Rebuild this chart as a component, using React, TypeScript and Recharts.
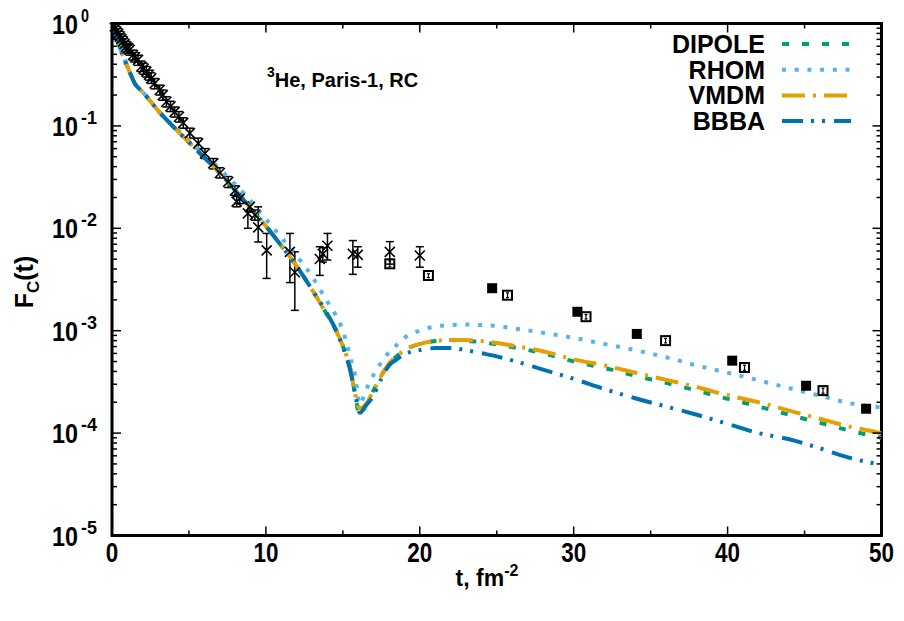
import React from "react";
import {
  ComposedChart,
  Line,
  Scatter,
  XAxis,
  YAxis,
  ErrorBar,
  ReferenceArea,
} from "recharts";

// model curves: t (fm^-2) and |F_C(t)|
const curveT = [0, 0.25, 0.5, 0.75, 1, 1.5, 2, 2.5, 3, 4, 5, 6, 7, 8, 9, 10, 11, 12, 13, 14, 14.5, 15, 15.5, 15.8, 16.1, 16.5, 17, 17.5, 18, 18.5, 19, 20, 21, 22, 23, 24, 25, 26, 28, 30, 32, 34, 36, 38, 40, 42, 44, 46, 48, 50];

const dipoleF = [1, 0.776, 0.589, 0.468, 0.38, 0.257, 0.214, 0.174, 0.141, 0.0977, 0.0692, 0.049, 0.0347, 0.0234, 0.0158, 0.0105, 0.00676, 0.00427, 0.00251, 0.00141, 0.00105, 7.08e-4, 4.17e-4, 2.4e-4, 1.48e-4, 1.91e-4, 2.63e-4, 3.63e-4, 4.79e-4, 5.62e-4, 6.46e-4, 7.41e-4, 7.94e-4, 8.13e-4, 7.94e-4, 7.76e-4, 7.33e-4, 6.92e-4, 6.03e-4, 5.01e-4, 4.32e-4, 3.63e-4, 3.09e-4, 2.6e-4, 2.16e-4, 1.82e-4, 1.51e-4, 1.26e-4, 1.05e-4, 9.0e-5];

const rhomF = [1, 0.776, 0.589, 0.468, 0.38, 0.257, 0.214, 0.174, 0.141, 0.1, 0.0724, 0.0525, 0.038, 0.0269, 0.0186, 0.0123, 0.00813, 0.00537, 0.00339, 0.00191, 0.00145, 0.001, 5.37e-4, 3.63e-4, 1.91e-4, 2.63e-4, 3.72e-4, 4.9e-4, 6.17e-4, 7.24e-4, 8.51e-4, 0.001, 0.0011, 0.001135, 0.00115, 0.001135, 0.00111, 0.00106, 9.55e-4, 8.51e-4, 7.41e-4, 6.46e-4, 5.5e-4, 4.57e-4, 3.89e-4, 3.28e-4, 2.75e-4, 2.32e-4, 1.95e-4, 1.78e-4];

const vmdmF = [1, 0.776, 0.589, 0.468, 0.38, 0.257, 0.214, 0.174, 0.141, 0.0977, 0.0692, 0.049, 0.0347, 0.0234, 0.0158, 0.0105, 0.00676, 0.00427, 0.00251, 0.00141, 0.00105, 7.08e-4, 4.17e-4, 2.4e-4, 1.74e-4, 1.91e-4, 2.63e-4, 3.63e-4, 4.79e-4, 5.62e-4, 6.46e-4, 7.41e-4, 7.94e-4, 8.13e-4, 8.13e-4, 7.94e-4, 7.59e-4, 7.16e-4, 6.31e-4, 5.25e-4, 4.57e-4, 3.89e-4, 3.31e-4, 2.82e-4, 2.34e-4, 2.0e-4, 1.66e-4, 1.38e-4, 1.15e-4, 1.0e-4];

const bbbaF = [1, 0.776, 0.589, 0.468, 0.38, 0.257, 0.214, 0.174, 0.141, 0.0977, 0.0692, 0.049, 0.0347, 0.0234, 0.0158, 0.0105, 0.00676, 0.00427, 0.00251, 0.00145, 0.00105, 6.92e-4, 3.98e-4, 2.4e-4, 1.58e-4, 1.86e-4, 2.34e-4, 3.39e-4, 4.57e-4, 5.25e-4, 5.89e-4, 6.46e-4, 6.76e-4, 6.76e-4, 6.46e-4, 6.03e-4, 5.62e-4, 5.13e-4, 4.17e-4, 3.39e-4, 2.69e-4, 2.19e-4, 1.82e-4, 1.51e-4, 1.23e-4, 1.0e-4, 8.7e-5, 7.1e-5, 5.7e-5, 4.9e-5];

// experimental points, crosses with error bars
const crossT = [0.1, 0.2, 0.28, 0.4, 0.5, 0.6, 0.71, 0.82, 0.93, 1.04, 1.15, 1.36, 1.5, 1.69, 1.9, 2.05, 2.23, 2.4, 2.55, 2.77, 3.1, 3.3, 3.53, 3.8, 4.07, 4.35, 4.63, 5.06, 5.6, 6.04, 6.58, 7.01, 7.55, 7.99, 8.1, 8.3, 8.83, 8.96, 9.29, 9.5, 10.05, 11.56, 11.88, 13.5, 13.7, 14.0, 15.65, 15.97, 18.05, 20.0];
const crossF = [0.955, 0.891, 0.836, 0.794, 0.746, 0.708, 0.667, 0.631, 0.596, 0.575, 0.552, 0.493, 0.468, 0.441, 0.38, 0.363, 0.339, 0.316, 0.291, 0.26, 0.224, 0.2, 0.172, 0.155, 0.137, 0.123, 0.107, 0.0851, 0.0676, 0.0537, 0.0431, 0.0347, 0.0284, 0.0234, 0.0182, 0.0195, 0.014, 0.0162, 0.0135, 0.0102, 0.00608, 0.00589, 0.00372, 0.00501, 0.00562, 0.00676, 0.00562, 0.0055, 0.00589, 0.00543];
const crossLow = [0.85, 0.79, 0.74, 0.71, 0.66, 0.63, 0.59, 0.56, 0.53, 0.51, 0.49, 0.44, 0.42, 0.39, 0.34, 0.32, 0.3, 0.28, 0.26, 0.23, 0.2, 0.178, 0.153, 0.138, 0.122, 0.109, 0.095, 0.076, 0.06, 0.048, 0.038, 0.031, 0.025, 0.021, 0.0162, 0.0174, 0.01, 0.0144, 0.012, 0.00735, 0.00324, 0.00295, 0.00158, 0.00347, 0.00468, 0.0049, 0.00355, 0.00417, 0.00447, 0.00417];
const crossHigh = [1.0, 1.0, 0.94, 0.89, 0.84, 0.79, 0.75, 0.71, 0.67, 0.64, 0.62, 0.55, 0.52, 0.49, 0.43, 0.41, 0.38, 0.35, 0.33, 0.29, 0.25, 0.224, 0.193, 0.174, 0.153, 0.138, 0.12, 0.095, 0.076, 0.06, 0.048, 0.039, 0.032, 0.026, 0.0204, 0.0218, 0.0181, 0.0181, 0.0151, 0.0162, 0.00891, 0.00891, 0.00589, 0.00661, 0.00646, 0.00891, 0.00759, 0.00661, 0.00741, 0.00661];

// open squares
const openT = [18.05, 20.56, 25.7, 30.8, 35.97, 41.1, 46.2];
const openF = [0.0045, 0.00346, 0.00222, 0.00137, 0.0008, 4.37e-4, 2.6e-4];
const openLow = [0.0042, 0.0033, 0.0021, 0.0013, 0.00076, 4.1e-4, 2.45e-4];
const openHigh = [0.0048, 0.0036, 0.00234, 0.00144, 0.00084, 4.6e-4, 2.75e-4];

// filled squares
const filledT = [24.7, 30.24, 34.1, 40.3, 45.1, 49.0];
const filledF = [0.0026, 0.00153, 9.3e-4, 5.1e-4, 2.9e-4, 1.73e-4];

const xTicks = [0, 5, 10, 15, 20, 25, 30, 35, 40, 45, 50];
const yMajor = [1e-5, 1e-4, 1e-3, 1e-2, 1e-1, 1];
const yExponents = ["-5", "-4", "-3", "-2", "-1", "0"];
const minorSteps = [2, 3, 4, 5, 6, 7, 8, 9];

const series = [
  { name: "DIPOLE", values: dipoleF, color: "#009E73", dash: "7 13" },
  { name: "RHOM", values: rhomF, color: "#56B4E9", dash: "4 8.7" },
  { name: "VMDM", values: vmdmF, color: "#E69F00", dash: "23 8 3 8" },
  { name: "BBBA", values: bbbaF, color: "#0072B2", dash: "21 8 3 8 3 9" },
];

const W = 904;
const H = 621;
const PL = 112;
const PR = 881.5;
const PT = 23.5;
const PB = 535.5;
const FONT = "'Liberation Sans', Arial, Helvetica, sans-serif";

const yTicks = [
  ...yMajor,
  ...yMajor.slice(0, 5).flatMap((d) => minorSteps.map((k) => k * d)),
];

const crossData = crossT.map((t, i) => ({
  t,
  v: crossF[i],
  err: [crossF[i] - crossLow[i], crossHigh[i] - crossF[i]],
}));
const openData = openT.map((t, i) => ({
  t,
  v: openF[i],
  err: [openF[i] - openLow[i], openHigh[i] - openF[i]],
}));
const filledData = filledT.map((t, i) => ({ t, v: filledF[i] }));

const YTick = (props: any) => {
  const { y, payload } = props;
  const v = payload.value;
  const idx = yMajor.findIndex((m) => Math.abs(m - v) / m < 1e-6);
  const major = idx >= 0;
  const len = major ? 9 : 5;
  return (
    <g>
      <line x1={PL} x2={PL + len} y1={y} y2={y} stroke="#000" strokeWidth={1.5} />
      <line x1={PR - len} x2={PR} y1={y} y2={y} stroke="#000" strokeWidth={1.5} />
      {major && (
        <text fontFamily={FONT} fontWeight="bold" fill="#000">
          <tspan x={52} y={y + 10} fontSize={27} textLength={26} lengthAdjust="spacingAndGlyphs">
            10
          </tspan>
          <tspan x={81} y={y - 2} fontSize={19} textLength={yExponents[idx].length * 8} lengthAdjust="spacingAndGlyphs">
            {yExponents[idx]}
          </tspan>
        </text>
      )}
    </g>
  );
};

const XTick = (props: any) => {
  const { x, payload } = props;
  const v = payload.value;
  const major = v % 10 === 0;
  const len = major ? 9 : 5;
  const label = String(v);
  return (
    <g>
      <line x1={x} x2={x} y1={PB} y2={PB - len} stroke="#000" strokeWidth={1.5} />
      <line x1={x} x2={x} y1={PT} y2={PT + len} stroke="#000" strokeWidth={1.5} />
      {major && (
        <text
          x={x}
          y={PB + 26}
          textAnchor="middle"
          fontFamily={FONT}
          fontWeight="bold"
          fontSize={27}
          fill="#000"
          textLength={label.length * 12.5}
          lengthAdjust="spacingAndGlyphs"
        >
          {label}
        </text>
      )}
    </g>
  );
};

const Cross = (p: any) => {
  const { cx, cy } = p;
  const s = 5;
  return (
    <g stroke="#000" strokeWidth={1.6}>
      <line x1={cx - s} y1={cy - s} x2={cx + s} y2={cy + s} />
      <line x1={cx - s} y1={cy + s} x2={cx + s} y2={cy - s} />
    </g>
  );
};

const OpenSquare = (p: any) => {
  const { cx, cy } = p;
  return <rect x={cx - 4.5} y={cy - 4.5} width={9} height={9} fill="none" stroke="#000" strokeWidth={2} />;
};

const FilledSquare = (p: any) => {
  const { cx, cy } = p;
  return <rect x={cx - 5} y={cy - 5} width={10} height={10} fill="#000" />;
};

const Legend = () => (
  <svg width={W} height={160} style={{ position: "absolute", left: 0, top: 0, pointerEvents: "none" }}>
    <text x={267} y={87} fontFamily={FONT} fontWeight="bold" fontSize={20} fill="#000">
      <tspan fontSize={14} dy={-10}>3</tspan>
      <tspan dy={10}>He, Paris-1, RC</tspan>
    </text>
    {series.map((s, i) => {
      const yc = 44 + i * 25.7;
      return (
        <g key={s.name}>
          <text x={765} y={yc + 9} textAnchor="end" fontFamily={FONT} fontWeight="bold" fontSize={25} fill="#000">
            {s.name}
          </text>
          <line x1={782} x2={851} y1={yc} y2={yc} stroke={s.color} strokeWidth={4} strokeDasharray={s.dash} />
        </g>
      );
    })}
  </svg>
);

export default function App() {
  return (
    <div style={{ position: "absolute", left: 0, top: 0, width: W, height: H, background: "#fff" }}>
      <ComposedChart width={W} height={H} margin={{ top: PT, right: W - PR, bottom: 0, left: 0 }}>
        <XAxis
          type="number"
          dataKey="t"
          domain={[0, 50]}
          ticks={xTicks}
          interval={0}
          axisLine={false}
          tickLine={false}
          height={H - PB}
          tick={(p: any) => <XTick {...p} />}
          allowDataOverflow
          label={{
            content: () => (
              <text x={487} y={586} textAnchor="middle" fontFamily={FONT} fontWeight="bold" fontSize={23} fill="#000">
                <tspan>t, fm</tspan>
                <tspan fontSize={16} dy={-10}>-2</tspan>
              </text>
            ),
          }}
        />
        <YAxis
          type="number"
          scale="log"
          domain={[1e-5, 1]}
          ticks={yTicks}
          interval={0}
          allowDataOverflow
          axisLine={false}
          tickLine={false}
          width={PL}
          tick={(p: any) => <YTick {...p} />}
          label={{
            content: () => (
              <text
                x={33}
                y={282}
                transform="rotate(-90 33 282)"
                textAnchor="middle"
                fontFamily={FONT}
                fontWeight="bold"
                fontSize={25}
                fill="#000"
              >
                <tspan>F</tspan>
                <tspan fontSize={17} dy={6}>C</tspan>
                <tspan dy={-6}>(t)</tspan>
              </text>
            ),
          }}
        />
        <Scatter data={crossData} dataKey="v" shape={<Cross />} isAnimationActive={false}>
          <ErrorBar dataKey="err" direction="y" width={4} stroke="#000" strokeWidth={1.5} isAnimationActive={false} />
        </Scatter>
        <Scatter data={openData} dataKey="v" shape={<OpenSquare />} isAnimationActive={false}>
          <ErrorBar dataKey="err" direction="y" width={1.5} stroke="#000" strokeWidth={1.2} isAnimationActive={false} />
        </Scatter>
        <Scatter data={filledData} dataKey="v" shape={<FilledSquare />} isAnimationActive={false} />
        {series.map((s) => (
          <Line
            key={s.name}
            data={curveT.map((t, i) => ({ t, v: s.values[i] }))}
            dataKey="v"
            type="monotone"
            stroke={s.color}
            strokeWidth={4}
            strokeDasharray={s.dash}
            dot={false}
            activeDot={false}
            isAnimationActive={false}
          />
        ))}
        <ReferenceArea x1={0} x2={50} y1={1e-5} y2={1} fill="none" stroke="#000" strokeWidth={3} ifOverflow="visible" />
      </ComposedChart>
      <Legend />
    </div>
  );
}
